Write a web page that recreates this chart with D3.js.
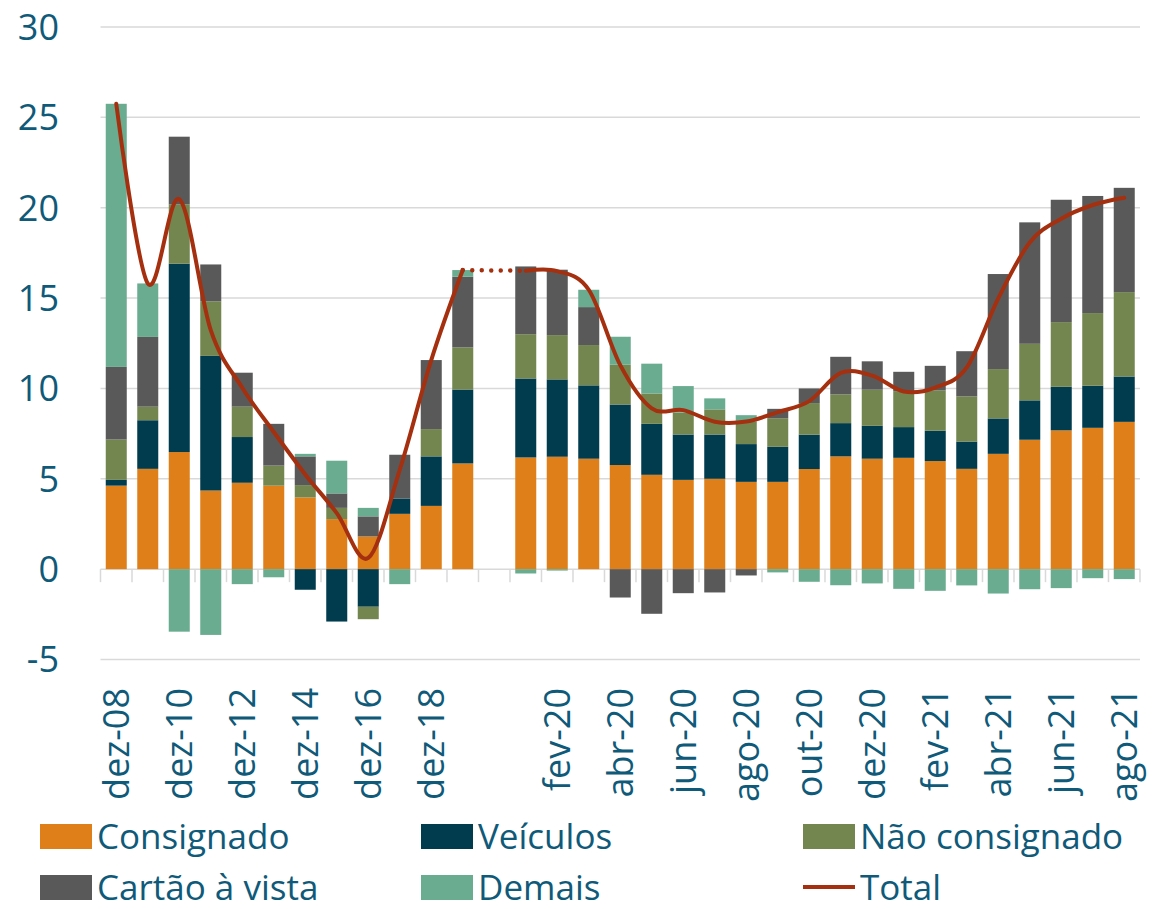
<!DOCTYPE html>
<html>
<head>
<meta charset="utf-8">
<script src="https://cdn.jsdelivr.net/npm/d3@7"></script>
<style>
  body { margin: 0; background: #fff; }
  text { font-family: "Open Sans", sans-serif; fill: #0f5a79; }
</style>
</head>
<body>
<div id="chart"></div>
<script>
// categories: 12 annual points, one empty slot, 20 monthly points
const categories = ["dez-08","dez-09","dez-10","dez-11","dez-12","dez-13","dez-14","dez-15","dez-16","dez-17","dez-18","dez-19",
  "",
  "jan-20","fev-20","mar-20","abr-20","mai-20","jun-20","jul-20","ago-20","set-20","out-20","nov-20","dez-20",
  "jan-21","fev-21","mar-21","abr-21","mai-21","jun-21","jul-21","ago-21"];
const shownLabels = ["dez-08","dez-10","dez-12","dez-14","dez-16","dez-18","fev-20","abr-20","jun-20","ago-20","out-20","dez-20","fev-21","abr-21","jun-21","ago-21"];

// values per series (null = empty gap slot)
const consignado    = [4.62,5.55,6.48,4.35,4.78,4.62,3.97,2.77,1.81,3.06,3.50,5.85, null,
  6.18,6.22,6.11,5.76,5.22,4.94,5.00,4.83,4.83,5.54,6.24,6.11,6.16,5.98,5.55,6.38,7.16,7.68,7.82,8.15];
const veiculos      = [0.32,2.69,10.42,7.45,2.53,0.00,-1.14,-2.90,-2.08,0.85,2.74,4.09, null,
  4.37,4.28,4.06,3.35,2.82,2.51,2.45,2.09,1.94,1.90,1.84,1.82,1.70,1.68,1.51,1.96,2.18,2.41,2.33,2.51];
const naoConsignado = [2.23,0.75,3.28,3.02,1.68,1.11,0.68,0.62,-0.69,0.00,1.51,2.33, null,
  2.45,2.45,2.23,2.20,1.68,1.22,1.39,1.25,1.58,1.75,1.59,2.00,1.99,2.23,2.50,2.73,3.13,3.58,4.02,4.67];
const cartaoVista   = [4.02,3.86,3.75,2.04,1.88,2.31,1.59,0.80,1.11,2.42,3.82,3.91, null,
  3.75,3.62,2.10,-1.57,-2.47,-1.33,-1.29,-0.35,0.52,0.81,2.08,1.57,1.07,1.36,2.50,5.26,6.72,6.77,6.48,5.77];
const demais        = [14.56,2.96,-3.46,-3.64,-0.83,-0.45,0.14,1.81,0.47,-0.83,0.00,0.37, null,
  -0.24,-0.08,0.96,1.55,1.65,1.46,0.61,0.35,-0.18,-0.70,-0.89,-0.79,-1.09,-1.20,-0.90,-1.35,-1.11,-1.05,-0.50,-0.55];

const seriesNames = ["Consignado","Veículos","Não consignado","Cartão à vista","Demais"];
const seriesColors = ["#df7f1a","#003b4e","#738650","#595959","#6aac90"];
const lineColor = "#a5300f";
const yTicks = [-5,0,5,10,15,20,25,30];

const width = 1153, height = 909;

let svg = d3.select("#chart").append("svg")
    .attr("width", width)
    .attr("height", height);

let x = d3.scaleBand()
    .domain(d3.range(categories.length))
    .range([100.5, 1140])
    .paddingInner(0.333)
    .paddingOuter(0.1667);

let y = d3.scaleLinear()
    .domain([-5, 30])
    .range([659.5, 27]);

// gridlines
svg.append("g")
    .selectAll("line")
    .data(yTicks)
    .join("line")
    .attr("x1", 100.5)
    .attr("x2", 1140)
    .attr("y1", d => y(d))
    .attr("y2", d => y(d))
    .attr("stroke", "#d9d9d9")
    .attr("stroke-width", 1.5);

// y labels
svg.append("g")
    .selectAll("text")
    .data(yTicks)
    .join("text")
    .attr("x", 59)
    .attr("y", d => y(d))
    .attr("dy", "0.36em")
    .attr("text-anchor", "end")
    .style("font-size", "36px")
    .text(d => d);

// build table for stacking
let table = categories.map((c, i) => ({
    i: i,
    "Consignado": consignado[i] || 0,
    "Veículos": veiculos[i] || 0,
    "Não consignado": naoConsignado[i] || 0,
    "Cartão à vista": cartaoVista[i] || 0,
    "Demais": demais[i] || 0,
    empty: consignado[i] === null
}));

let stacked = d3.stack()
    .keys(seriesNames)
    .offset(d3.stackOffsetDiverging)(table);

svg.append("g")
    .selectAll("g")
    .data(stacked)
    .join("g")
    .attr("fill", (d, k) => seriesColors[k])
    .selectAll("rect")
    .data(d => d.filter(p => !p.data.empty && p[1] !== p[0]))
    .join("rect")
    .attr("x", p => x(p.data.i))
    .attr("width", x.bandwidth())
    .attr("y", p => y(Math.max(p[0], p[1])))
    .attr("height", p => Math.abs(y(p[0]) - y(p[1])));

// category boundary ticks under the zero line
svg.append("g")
    .selectAll("line")
    .data(d3.range(categories.length + 1))
    .join("line")
    .attr("x1", k => 100.5 + k * x.step())
    .attr("x2", k => 100.5 + k * x.step())
    .attr("y1", y(0))
    .attr("y2", y(0) + 13)
    .attr("stroke", "#d9d9d9")
    .attr("stroke-width", 1.5);

// x labels (rotated)
svg.append("g")
    .selectAll("text")
    .data(categories.map((c, i) => ({c, i})).filter(d => shownLabels.includes(d.c)))
    .join("text")
    .attr("transform", d => `translate(${x(d.i) + x.bandwidth() / 2}, 688) rotate(-90)`)
    .attr("dy", "0.36em")
    .attr("text-anchor", "end")
    .style("font-size", "36px")
    .text(d => d.c);

// total line
let totals = table.map(d => ({
    i: d.i,
    v: d["Consignado"] + d["Veículos"] + d["Não consignado"] + d["Cartão à vista"] + d["Demais"],
    empty: d.empty
}));
let annual = totals.slice(0, 12);
let monthly = totals.slice(13);
let cx = d => x(d.i) + x.bandwidth() / 2;

let line = d3.line()
    .x(cx)
    .y(d => y(d.v))
    .curve(d3.curveCardinal.tension(0));

svg.append("path")
    .attr("d", d3.line().x(cx).y(d => y(d.v)).curve(d3.curveMonotoneX)([annual[11], monthly[0]]))
    .attr("fill", "none")
    .attr("stroke", lineColor)
    .attr("stroke-width", 4.5)
    .attr("stroke-linecap", "round")
    .attr("stroke-dasharray", "0 9.5");

[annual, monthly].forEach(seg => {
    svg.append("path")
        .attr("d", line(seg))
        .attr("fill", "none")
        .attr("stroke", lineColor)
        .attr("stroke-width", 4)
        .attr("stroke-linejoin", "round")
        .attr("stroke-linecap", "round");
});

// legend
const legendPos = [[40, 836], [421, 836], [803, 836], [40, 887], [421, 887]];
let legend = svg.append("g");
seriesNames.forEach((name, k) => {
    let [lx, ly] = legendPos[k];
    legend.append("rect")
        .attr("x", lx).attr("y", ly - 12)
        .attr("width", 52).attr("height", 25)
        .attr("fill", seriesColors[k]);
    legend.append("text")
        .attr("x", lx + 57).attr("y", ly)
        .attr("dy", "0.36em")
        .style("font-size", "35px")
        .text(name);
});
legend.append("line")
    .attr("x1", 803).attr("x2", 855)
    .attr("y1", 887).attr("y2", 887)
    .attr("stroke", lineColor)
    .attr("stroke-width", 4);
legend.append("text")
    .attr("x", 860).attr("y", 887)
    .attr("dy", "0.36em")
    .style("font-size", "35px")
    .text("Total");
</script>
</body>
</html>
